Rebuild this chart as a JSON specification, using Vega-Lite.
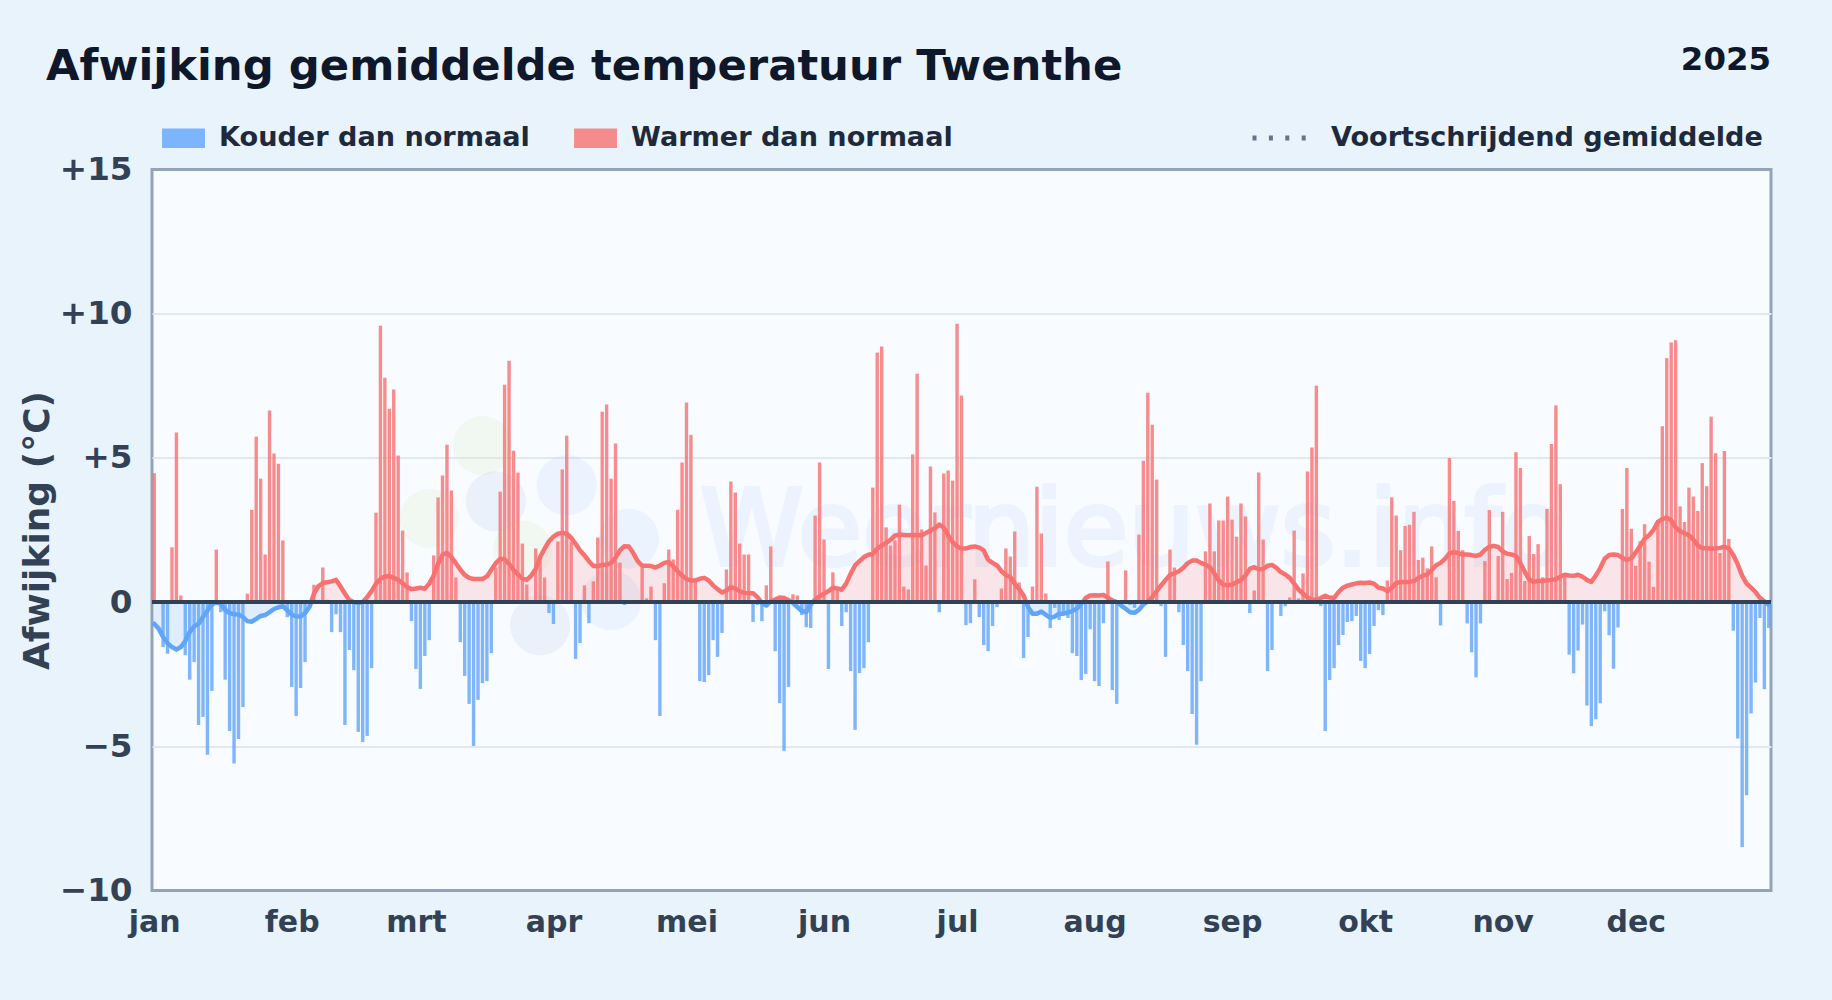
{"$schema":"https://vega.github.io/schema/vega-lite/v6.json","width":1619,"height":721,"autosize":{"type":"none"},"padding":{"left":152,"top":169.5,"right":61,"bottom":109.5},"background":"#e8f3fc",
"config":{"font":"DejaVu Sans","view":{"fill":"#f8fbff","stroke":"#94a3b8","strokeWidth":3}},
"title":{"text":"Afwijking gemiddelde temperatuur Twenthe","anchor":"start","frame":"group","dx":-106,"offset":-45.5,"fontSize":43.35,"fontWeight":"bold","color":"#0f172a","font":"DejaVu Sans"},
"datasets":{"days":[
{"date":"2025-01-01","dev":4.47,"avg":-0.75,"kind":"warm"},{"date":"2025-01-02","dev":0,"avg":-0.92,"kind":"warm"},{"date":"2025-01-03","dev":-1.56,"avg":-1.21,"kind":"koud"},{"date":"2025-01-04","dev":-1.79,"avg":-1.42,"kind":"koud"},{"date":"2025-01-05","dev":1.9,"avg":-1.56,"kind":"warm"},{"date":"2025-01-06","dev":5.88,"avg":-1.64,"kind":"warm"},{"date":"2025-01-07","dev":0.23,"avg":-1.56,"kind":"warm"},{"date":"2025-01-08","dev":-1.84,"avg":-1.35,"kind":"koud"},{"date":"2025-01-09","dev":-2.69,"avg":-1.04,"kind":"koud"},{"date":"2025-01-10","dev":-2.08,"avg":-0.84,"kind":"koud"},
{"date":"2025-01-11","dev":-4.26,"avg":-0.75,"kind":"koud"},{"date":"2025-01-12","dev":-3.98,"avg":-0.52,"kind":"koud"},{"date":"2025-01-13","dev":-5.29,"avg":-0.29,"kind":"koud"},{"date":"2025-01-14","dev":-3.08,"avg":-0.08,"kind":"koud"},{"date":"2025-01-15","dev":1.82,"avg":0,"kind":"warm"},{"date":"2025-01-16","dev":-0.35,"avg":-0.06,"kind":"koud"},{"date":"2025-01-17","dev":-2.69,"avg":-0.27,"kind":"koud"},{"date":"2025-01-18","dev":-4.47,"avg":-0.38,"kind":"koud"},{"date":"2025-01-19","dev":-5.6,"avg":-0.42,"kind":"koud"},{"date":"2025-01-20","dev":-4.75,"avg":-0.43,"kind":"koud"},
{"date":"2025-01-21","dev":-3.64,"avg":-0.52,"kind":"koud"},{"date":"2025-01-22","dev":0.29,"avg":-0.66,"kind":"warm"},{"date":"2025-01-23","dev":3.2,"avg":-0.68,"kind":"warm"},{"date":"2025-01-24","dev":5.74,"avg":-0.58,"kind":"warm"},{"date":"2025-01-25","dev":4.28,"avg":-0.48,"kind":"warm"},{"date":"2025-01-26","dev":1.65,"avg":-0.45,"kind":"warm"},{"date":"2025-01-27","dev":6.64,"avg":-0.35,"kind":"warm"},{"date":"2025-01-28","dev":5.15,"avg":-0.24,"kind":"warm"},{"date":"2025-01-29","dev":4.8,"avg":-0.18,"kind":"warm"},{"date":"2025-01-30","dev":2.14,"avg":-0.14,"kind":"warm"},{"date":"2025-01-31","dev":-0.52,"avg":-0.29,"kind":"koud"},
{"date":"2025-02-01","dev":-2.94,"avg":-0.43,"kind":"koud"},{"date":"2025-02-02","dev":-3.95,"avg":-0.5,"kind":"koud"},{"date":"2025-02-03","dev":-2.98,"avg":-0.5,"kind":"koud"},{"date":"2025-02-04","dev":-2.08,"avg":-0.38,"kind":"koud"},{"date":"2025-02-05","dev":-0.1,"avg":-0.17,"kind":"koud"},{"date":"2025-02-06","dev":0.6,"avg":0.29,"kind":"warm"},{"date":"2025-02-07","dev":0.08,"avg":0.55,"kind":"warm"},{"date":"2025-02-08","dev":1.2,"avg":0.66,"kind":"warm"},{"date":"2025-02-09","dev":0.08,"avg":0.69,"kind":"warm"},{"date":"2025-02-10","dev":-1.04,"avg":0.72,"kind":"koud"},
{"date":"2025-02-11","dev":-0.42,"avg":0.77,"kind":"koud"},{"date":"2025-02-12","dev":-1.04,"avg":0.54,"kind":"koud"},{"date":"2025-02-13","dev":-4.26,"avg":0.29,"kind":"koud"},{"date":"2025-02-14","dev":-1.66,"avg":0.07,"kind":"koud"},{"date":"2025-02-15","dev":-2.36,"avg":0,"kind":"koud"},{"date":"2025-02-16","dev":-4.5,"avg":-0.03,"kind":"koud"},{"date":"2025-02-17","dev":-4.85,"avg":0,"kind":"koud"},{"date":"2025-02-18","dev":-4.64,"avg":0.17,"kind":"koud"},{"date":"2025-02-19","dev":-2.29,"avg":0.38,"kind":"koud"},{"date":"2025-02-20","dev":3.1,"avg":0.64,"kind":"warm"},
{"date":"2025-02-21","dev":9.58,"avg":0.8,"kind":"warm"},{"date":"2025-02-22","dev":7.78,"avg":0.89,"kind":"warm"},{"date":"2025-02-23","dev":6.7,"avg":0.9,"kind":"warm"},{"date":"2025-02-24","dev":7.37,"avg":0.84,"kind":"warm"},{"date":"2025-02-25","dev":5.08,"avg":0.77,"kind":"warm"},{"date":"2025-02-26","dev":2.48,"avg":0.66,"kind":"warm"},{"date":"2025-02-27","dev":1.03,"avg":0.52,"kind":"warm"},{"date":"2025-02-28","dev":-0.66,"avg":0.45,"kind":"koud"},
{"date":"2025-03-01","dev":-2.32,"avg":0.47,"kind":"koud"},{"date":"2025-03-02","dev":-3.01,"avg":0.5,"kind":"koud"},{"date":"2025-03-03","dev":-1.87,"avg":0.46,"kind":"koud"},{"date":"2025-03-04","dev":-1.32,"avg":0.64,"kind":"koud"},{"date":"2025-03-05","dev":1.62,"avg":0.92,"kind":"warm"},{"date":"2025-03-06","dev":3.63,"avg":1.33,"kind":"warm"},{"date":"2025-03-07","dev":4.39,"avg":1.64,"kind":"warm"},{"date":"2025-03-08","dev":5.46,"avg":1.71,"kind":"warm"},{"date":"2025-03-09","dev":3.87,"avg":1.56,"kind":"warm"},{"date":"2025-03-10","dev":0.85,"avg":1.35,"kind":"warm"},
{"date":"2025-03-11","dev":-1.39,"avg":1.13,"kind":"koud"},{"date":"2025-03-12","dev":-2.56,"avg":0.94,"kind":"koud"},{"date":"2025-03-13","dev":-3.53,"avg":0.84,"kind":"koud"},{"date":"2025-03-14","dev":-4.99,"avg":0.8,"kind":"koud"},{"date":"2025-03-15","dev":-3.39,"avg":0.8,"kind":"koud"},{"date":"2025-03-16","dev":-2.81,"avg":0.8,"kind":"koud"},{"date":"2025-03-17","dev":-2.74,"avg":0.89,"kind":"koud"},{"date":"2025-03-18","dev":-1.77,"avg":1.12,"kind":"koud"},{"date":"2025-03-19","dev":1.2,"avg":1.35,"kind":"warm"},{"date":"2025-03-20","dev":3.83,"avg":1.5,"kind":"warm"},
{"date":"2025-03-21","dev":7.54,"avg":1.48,"kind":"warm"},{"date":"2025-03-22","dev":8.37,"avg":1.33,"kind":"warm"},{"date":"2025-03-23","dev":5.25,"avg":1.12,"kind":"warm"},{"date":"2025-03-24","dev":4.49,"avg":0.96,"kind":"warm"},{"date":"2025-03-25","dev":2.03,"avg":0.81,"kind":"warm"},{"date":"2025-03-26","dev":0.61,"avg":0.77,"kind":"warm"},{"date":"2025-03-27","dev":0,"avg":0.92,"kind":"warm"},{"date":"2025-03-28","dev":1.86,"avg":1.15,"kind":"warm"},{"date":"2025-03-29","dev":1.44,"avg":1.56,"kind":"warm"},{"date":"2025-03-30","dev":0.85,"avg":1.85,"kind":"warm"},{"date":"2025-03-31","dev":-0.38,"avg":2.11,"kind":"koud"},
{"date":"2025-04-01","dev":-0.76,"avg":2.27,"kind":"koud"},{"date":"2025-04-02","dev":2.1,"avg":2.37,"kind":"warm"},{"date":"2025-04-03","dev":4.6,"avg":2.4,"kind":"warm"},{"date":"2025-04-04","dev":5.77,"avg":2.37,"kind":"warm"},{"date":"2025-04-05","dev":2.1,"avg":2.23,"kind":"warm"},{"date":"2025-04-06","dev":-1.97,"avg":2.02,"kind":"koud"},{"date":"2025-04-07","dev":-1.42,"avg":1.79,"kind":"koud"},{"date":"2025-04-08","dev":0.58,"avg":1.62,"kind":"warm"},{"date":"2025-04-09","dev":-0.73,"avg":1.42,"kind":"koud"},{"date":"2025-04-10","dev":0.72,"avg":1.25,"kind":"warm"},
{"date":"2025-04-11","dev":2.24,"avg":1.25,"kind":"warm"},{"date":"2025-04-12","dev":6.6,"avg":1.29,"kind":"warm"},{"date":"2025-04-13","dev":6.85,"avg":1.3,"kind":"warm"},{"date":"2025-04-14","dev":4.28,"avg":1.35,"kind":"warm"},{"date":"2025-04-15","dev":5.5,"avg":1.54,"kind":"warm"},{"date":"2025-04-16","dev":1.37,"avg":1.79,"kind":"warm"},{"date":"2025-04-17","dev":-0.1,"avg":1.94,"kind":"koud"},{"date":"2025-04-18","dev":0,"avg":1.93,"kind":"warm"},{"date":"2025-04-19","dev":0,"avg":1.7,"kind":"warm"},{"date":"2025-04-20","dev":0,"avg":1.42,"kind":"warm"},
{"date":"2025-04-21","dev":1.21,"avg":1.26,"kind":"warm"},{"date":"2025-04-22","dev":0.13,"avg":1.26,"kind":"warm"},{"date":"2025-04-23","dev":0.54,"avg":1.25,"kind":"warm"},{"date":"2025-04-24","dev":-1.32,"avg":1.2,"kind":"koud"},{"date":"2025-04-25","dev":-3.95,"avg":1.27,"kind":"koud"},{"date":"2025-04-26","dev":0.65,"avg":1.36,"kind":"warm"},{"date":"2025-04-27","dev":1.82,"avg":1.39,"kind":"warm"},{"date":"2025-04-28","dev":1.48,"avg":1.24,"kind":"warm"},{"date":"2025-04-29","dev":3.2,"avg":1.07,"kind":"warm"},{"date":"2025-04-30","dev":4.84,"avg":0.92,"kind":"warm"},
{"date":"2025-05-01","dev":6.92,"avg":0.8,"kind":"warm"},{"date":"2025-05-02","dev":5.8,"avg":0.75,"kind":"warm"},{"date":"2025-05-03","dev":0.75,"avg":0.75,"kind":"warm"},{"date":"2025-05-04","dev":-2.74,"avg":0.81,"kind":"koud"},{"date":"2025-05-05","dev":-2.77,"avg":0.84,"kind":"koud"},{"date":"2025-05-06","dev":-2.53,"avg":0.75,"kind":"koud"},{"date":"2025-05-07","dev":-1.32,"avg":0.58,"kind":"koud"},{"date":"2025-05-08","dev":-1.9,"avg":0.45,"kind":"koud"},{"date":"2025-05-09","dev":-1.07,"avg":0.33,"kind":"koud"},{"date":"2025-05-10","dev":1.13,"avg":0.4,"kind":"warm"},
{"date":"2025-05-11","dev":4.18,"avg":0.52,"kind":"warm"},{"date":"2025-05-12","dev":3.8,"avg":0.47,"kind":"warm"},{"date":"2025-05-13","dev":2.03,"avg":0.38,"kind":"warm"},{"date":"2025-05-14","dev":1.65,"avg":0.32,"kind":"warm"},{"date":"2025-05-15","dev":1.65,"avg":0.31,"kind":"warm"},{"date":"2025-05-16","dev":-0.69,"avg":0.31,"kind":"koud"},{"date":"2025-05-17","dev":-0.1,"avg":0.17,"kind":"koud"},{"date":"2025-05-18","dev":-0.66,"avg":-0.03,"kind":"koud"},{"date":"2025-05-19","dev":0.58,"avg":-0.12,"kind":"warm"},{"date":"2025-05-20","dev":1.93,"avg":0.03,"kind":"warm"},
{"date":"2025-05-21","dev":-1.7,"avg":0.09,"kind":"koud"},{"date":"2025-05-22","dev":-3.5,"avg":0.16,"kind":"koud"},{"date":"2025-05-23","dev":-5.16,"avg":0.14,"kind":"koud"},{"date":"2025-05-24","dev":-2.94,"avg":0.07,"kind":"koud"},{"date":"2025-05-25","dev":0.27,"avg":-0.03,"kind":"warm"},{"date":"2025-05-26","dev":0.23,"avg":-0.17,"kind":"warm"},{"date":"2025-05-27","dev":-0.45,"avg":-0.31,"kind":"koud"},{"date":"2025-05-28","dev":-0.87,"avg":-0.35,"kind":"koud"},{"date":"2025-05-29","dev":-0.9,"avg":-0.08,"kind":"koud"},{"date":"2025-05-30","dev":3,"avg":0.09,"kind":"warm"},{"date":"2025-05-31","dev":4.84,"avg":0.2,"kind":"warm"},
{"date":"2025-06-01","dev":2.17,"avg":0.29,"kind":"warm"},{"date":"2025-06-02","dev":-2.32,"avg":0.38,"kind":"koud"},{"date":"2025-06-03","dev":1.03,"avg":0.5,"kind":"warm"},{"date":"2025-06-04","dev":0.4,"avg":0.47,"kind":"warm"},{"date":"2025-06-05","dev":-0.83,"avg":0.43,"kind":"koud"},{"date":"2025-06-06","dev":-0.35,"avg":0.64,"kind":"koud"},{"date":"2025-06-07","dev":-2.39,"avg":0.98,"kind":"koud"},{"date":"2025-06-08","dev":-4.43,"avg":1.27,"kind":"koud"},{"date":"2025-06-09","dev":-2.46,"avg":1.42,"kind":"koud"},{"date":"2025-06-10","dev":-2.29,"avg":1.56,"kind":"koud"},
{"date":"2025-06-11","dev":-1.39,"avg":1.64,"kind":"koud"},{"date":"2025-06-12","dev":3.97,"avg":1.67,"kind":"warm"},{"date":"2025-06-13","dev":8.65,"avg":1.85,"kind":"warm"},{"date":"2025-06-14","dev":8.86,"avg":1.96,"kind":"warm"},{"date":"2025-06-15","dev":2.59,"avg":2.05,"kind":"warm"},{"date":"2025-06-16","dev":1.96,"avg":2.16,"kind":"warm"},{"date":"2025-06-17","dev":2.14,"avg":2.31,"kind":"warm"},{"date":"2025-06-18","dev":3.38,"avg":2.34,"kind":"warm"},{"date":"2025-06-19","dev":0.54,"avg":2.33,"kind":"warm"},{"date":"2025-06-20","dev":0.44,"avg":2.32,"kind":"warm"},
{"date":"2025-06-21","dev":5.12,"avg":2.33,"kind":"warm"},{"date":"2025-06-22","dev":7.92,"avg":2.33,"kind":"warm"},{"date":"2025-06-23","dev":2.52,"avg":2.31,"kind":"warm"},{"date":"2025-06-24","dev":1.27,"avg":2.4,"kind":"warm"},{"date":"2025-06-25","dev":4.7,"avg":2.48,"kind":"warm"},{"date":"2025-06-26","dev":3.11,"avg":2.56,"kind":"warm"},{"date":"2025-06-27","dev":-0.35,"avg":2.69,"kind":"koud"},{"date":"2025-06-28","dev":4.46,"avg":2.58,"kind":"warm"},{"date":"2025-06-29","dev":4.56,"avg":2.31,"kind":"warm"},{"date":"2025-06-30","dev":4.21,"avg":2.08,"kind":"warm"},
{"date":"2025-07-01","dev":9.65,"avg":1.93,"kind":"warm"},{"date":"2025-07-02","dev":7.16,"avg":1.86,"kind":"warm"},{"date":"2025-07-03","dev":-0.8,"avg":1.86,"kind":"koud"},{"date":"2025-07-04","dev":-0.73,"avg":1.91,"kind":"koud"},{"date":"2025-07-05","dev":0.79,"avg":1.93,"kind":"warm"},{"date":"2025-07-06","dev":-0.52,"avg":1.89,"kind":"koud"},{"date":"2025-07-07","dev":-1.49,"avg":1.79,"kind":"koud"},{"date":"2025-07-08","dev":-1.7,"avg":1.47,"kind":"koud"},{"date":"2025-07-09","dev":-0.83,"avg":1.36,"kind":"koud"},{"date":"2025-07-10","dev":-0.17,"avg":1.27,"kind":"koud"},
{"date":"2025-07-11","dev":0.47,"avg":1.07,"kind":"warm"},{"date":"2025-07-12","dev":1.86,"avg":0.94,"kind":"warm"},{"date":"2025-07-13","dev":1.58,"avg":0.87,"kind":"warm"},{"date":"2025-07-14","dev":2.45,"avg":0.64,"kind":"warm"},{"date":"2025-07-15","dev":0.68,"avg":0.45,"kind":"warm"},{"date":"2025-07-16","dev":-1.94,"avg":0.23,"kind":"koud"},{"date":"2025-07-17","dev":-1.21,"avg":-0.17,"kind":"koud"},{"date":"2025-07-18","dev":0.54,"avg":-0.4,"kind":"warm"},{"date":"2025-07-19","dev":4,"avg":-0.4,"kind":"warm"},{"date":"2025-07-20","dev":2.38,"avg":-0.33,"kind":"warm"},
{"date":"2025-07-21","dev":0.3,"avg":-0.44,"kind":"warm"},{"date":"2025-07-22","dev":-0.9,"avg":-0.55,"kind":"koud"},{"date":"2025-07-23","dev":-0.2,"avg":-0.5,"kind":"koud"},{"date":"2025-07-24","dev":-0.62,"avg":-0.4,"kind":"koud"},{"date":"2025-07-25","dev":-0.45,"avg":-0.4,"kind":"koud"},{"date":"2025-07-26","dev":-0.55,"avg":-0.36,"kind":"koud"},{"date":"2025-07-27","dev":-1.77,"avg":-0.31,"kind":"koud"},{"date":"2025-07-28","dev":-1.87,"avg":-0.23,"kind":"koud"},{"date":"2025-07-29","dev":-2.7,"avg":-0.06,"kind":"koud"},{"date":"2025-07-30","dev":-2.49,"avg":0.14,"kind":"koud"},{"date":"2025-07-31","dev":-0.94,"avg":0.23,"kind":"koud"},
{"date":"2025-08-01","dev":-2.74,"avg":0.24,"kind":"koud"},{"date":"2025-08-02","dev":-2.91,"avg":0.23,"kind":"koud"},{"date":"2025-08-03","dev":-0.73,"avg":0.25,"kind":"koud"},{"date":"2025-08-04","dev":1.41,"avg":0.15,"kind":"warm"},{"date":"2025-08-05","dev":-3.05,"avg":0.06,"kind":"koud"},{"date":"2025-08-06","dev":-3.53,"avg":0,"kind":"koud"},{"date":"2025-08-07","dev":-0.05,"avg":-0.12,"kind":"koud"},{"date":"2025-08-08","dev":1.1,"avg":-0.23,"kind":"warm"},{"date":"2025-08-09","dev":-0.1,"avg":-0.35,"kind":"koud"},{"date":"2025-08-10","dev":-0.2,"avg":-0.37,"kind":"koud"},
{"date":"2025-08-11","dev":2.34,"avg":-0.27,"kind":"warm"},{"date":"2025-08-12","dev":4.9,"avg":-0.08,"kind":"warm"},{"date":"2025-08-13","dev":7.26,"avg":0.02,"kind":"warm"},{"date":"2025-08-14","dev":6.15,"avg":0.17,"kind":"warm"},{"date":"2025-08-15","dev":4.25,"avg":0.38,"kind":"warm"},{"date":"2025-08-16","dev":-0.14,"avg":0.58,"kind":"koud"},{"date":"2025-08-17","dev":-1.9,"avg":0.77,"kind":"koud"},{"date":"2025-08-18","dev":1.82,"avg":0.94,"kind":"warm"},{"date":"2025-08-19","dev":1.2,"avg":1,"kind":"warm"},{"date":"2025-08-20","dev":-0.35,"avg":1.07,"kind":"koud"},
{"date":"2025-08-21","dev":-1.49,"avg":1.19,"kind":"koud"},{"date":"2025-08-22","dev":-2.39,"avg":1.35,"kind":"koud"},{"date":"2025-08-23","dev":-3.88,"avg":1.44,"kind":"koud"},{"date":"2025-08-24","dev":-4.95,"avg":1.44,"kind":"koud"},{"date":"2025-08-25","dev":-2.74,"avg":1.36,"kind":"koud"},{"date":"2025-08-26","dev":1.76,"avg":1.3,"kind":"warm"},{"date":"2025-08-27","dev":3.42,"avg":1.21,"kind":"warm"},{"date":"2025-08-28","dev":1.76,"avg":1,"kind":"warm"},{"date":"2025-08-29","dev":2.83,"avg":0.75,"kind":"warm"},{"date":"2025-08-30","dev":2.83,"avg":0.61,"kind":"warm"},{"date":"2025-08-31","dev":3.66,"avg":0.58,"kind":"warm"},
{"date":"2025-09-01","dev":2.86,"avg":0.61,"kind":"warm"},{"date":"2025-09-02","dev":2.27,"avg":0.69,"kind":"warm"},{"date":"2025-09-03","dev":3.42,"avg":0.77,"kind":"warm"},{"date":"2025-09-04","dev":2.97,"avg":0.92,"kind":"warm"},{"date":"2025-09-05","dev":-0.38,"avg":1.15,"kind":"koud"},{"date":"2025-09-06","dev":0.4,"avg":1.21,"kind":"warm"},{"date":"2025-09-07","dev":4.49,"avg":1.14,"kind":"warm"},{"date":"2025-09-08","dev":2.17,"avg":1.15,"kind":"warm"},{"date":"2025-09-09","dev":-2.39,"avg":1.26,"kind":"koud"},{"date":"2025-09-10","dev":-1.66,"avg":1.29,"kind":"koud"},
{"date":"2025-09-11","dev":0,"avg":1.19,"kind":"warm"},{"date":"2025-09-12","dev":-0.48,"avg":1.04,"kind":"koud"},{"date":"2025-09-13","dev":-0.14,"avg":0.96,"kind":"koud"},{"date":"2025-09-14","dev":0.16,"avg":0.84,"kind":"warm"},{"date":"2025-09-15","dev":2.48,"avg":0.64,"kind":"warm"},{"date":"2025-09-16","dev":0.13,"avg":0.43,"kind":"warm"},{"date":"2025-09-17","dev":0.99,"avg":0.29,"kind":"warm"},{"date":"2025-09-18","dev":4.53,"avg":0.17,"kind":"warm"},{"date":"2025-09-19","dev":5.36,"avg":0.09,"kind":"warm"},{"date":"2025-09-20","dev":7.5,"avg":0.08,"kind":"warm"},
{"date":"2025-09-21","dev":-0.14,"avg":0.14,"kind":"koud"},{"date":"2025-09-22","dev":-4.47,"avg":0.22,"kind":"koud"},{"date":"2025-09-23","dev":-2.7,"avg":0.16,"kind":"koud"},{"date":"2025-09-24","dev":-2.29,"avg":0.15,"kind":"koud"},{"date":"2025-09-25","dev":-1.49,"avg":0.35,"kind":"koud"},{"date":"2025-09-26","dev":-1.14,"avg":0.5,"kind":"koud"},{"date":"2025-09-27","dev":-0.69,"avg":0.57,"kind":"koud"},{"date":"2025-09-28","dev":-0.66,"avg":0.61,"kind":"koud"},{"date":"2025-09-29","dev":-0.48,"avg":0.65,"kind":"koud"},{"date":"2025-09-30","dev":-2.04,"avg":0.67,"kind":"koud"},
{"date":"2025-10-01","dev":-2.29,"avg":0.66,"kind":"koud"},{"date":"2025-10-02","dev":-1.8,"avg":0.68,"kind":"koud"},{"date":"2025-10-03","dev":-0.83,"avg":0.64,"kind":"koud"},{"date":"2025-10-04","dev":-0.28,"avg":0.5,"kind":"koud"},{"date":"2025-10-05","dev":-0.45,"avg":0.47,"kind":"koud"},{"date":"2025-10-06","dev":0.75,"avg":0.38,"kind":"warm"},{"date":"2025-10-07","dev":3.63,"avg":0.5,"kind":"warm"},{"date":"2025-10-08","dev":3,"avg":0.66,"kind":"warm"},{"date":"2025-10-09","dev":1.8,"avg":0.7,"kind":"warm"},{"date":"2025-10-10","dev":2.64,"avg":0.7,"kind":"warm"},
{"date":"2025-10-11","dev":2.68,"avg":0.7,"kind":"warm"},{"date":"2025-10-12","dev":3.13,"avg":0.73,"kind":"warm"},{"date":"2025-10-13","dev":1.46,"avg":0.83,"kind":"warm"},{"date":"2025-10-14","dev":1.54,"avg":0.92,"kind":"warm"},{"date":"2025-10-15","dev":1.17,"avg":0.96,"kind":"warm"},{"date":"2025-10-16","dev":1.93,"avg":1.11,"kind":"warm"},{"date":"2025-10-17","dev":0.86,"avg":1.28,"kind":"warm"},{"date":"2025-10-18","dev":-0.81,"avg":1.36,"kind":"koud"},{"date":"2025-10-19","dev":0,"avg":1.5,"kind":"warm"},{"date":"2025-10-20","dev":5,"avg":1.69,"kind":"warm"},
{"date":"2025-10-21","dev":3.51,"avg":1.73,"kind":"warm"},{"date":"2025-10-22","dev":2.47,"avg":1.7,"kind":"warm"},{"date":"2025-10-23","dev":1.8,"avg":1.65,"kind":"warm"},{"date":"2025-10-24","dev":-0.74,"avg":1.65,"kind":"koud"},{"date":"2025-10-25","dev":-1.74,"avg":1.63,"kind":"koud"},{"date":"2025-10-26","dev":-2.61,"avg":1.6,"kind":"koud"},{"date":"2025-10-27","dev":-0.74,"avg":1.65,"kind":"koud"},{"date":"2025-10-28","dev":1.42,"avg":1.81,"kind":"warm"},{"date":"2025-10-29","dev":3.19,"avg":1.92,"kind":"warm"},{"date":"2025-10-30","dev":0,"avg":1.95,"kind":"warm"},{"date":"2025-10-31","dev":1.6,"avg":1.91,"kind":"warm"},
{"date":"2025-11-01","dev":3.13,"avg":1.76,"kind":"warm"},{"date":"2025-11-02","dev":0.8,"avg":1.68,"kind":"warm"},{"date":"2025-11-03","dev":1.01,"avg":1.65,"kind":"warm"},{"date":"2025-11-04","dev":5.2,"avg":1.6,"kind":"warm"},{"date":"2025-11-05","dev":4.65,"avg":1.35,"kind":"warm"},{"date":"2025-11-06","dev":0.73,"avg":1.05,"kind":"warm"},{"date":"2025-11-07","dev":2.29,"avg":0.78,"kind":"warm"},{"date":"2025-11-08","dev":1.67,"avg":0.7,"kind":"warm"},{"date":"2025-11-09","dev":2.01,"avg":0.73,"kind":"warm"},{"date":"2025-11-10","dev":0.86,"avg":0.73,"kind":"warm"},
{"date":"2025-11-11","dev":3.23,"avg":0.76,"kind":"warm"},{"date":"2025-11-12","dev":5.48,"avg":0.77,"kind":"warm"},{"date":"2025-11-13","dev":6.82,"avg":0.79,"kind":"warm"},{"date":"2025-11-14","dev":4.09,"avg":0.88,"kind":"warm"},{"date":"2025-11-15","dev":0.9,"avg":0.95,"kind":"warm"},{"date":"2025-11-16","dev":-1.82,"avg":0.92,"kind":"koud"},{"date":"2025-11-17","dev":-2.47,"avg":0.91,"kind":"koud"},{"date":"2025-11-18","dev":-1.68,"avg":0.95,"kind":"koud"},{"date":"2025-11-19","dev":-0.78,"avg":0.88,"kind":"koud"},{"date":"2025-11-20","dev":-3.59,"avg":0.77,"kind":"koud"},
{"date":"2025-11-21","dev":-4.3,"avg":0.7,"kind":"koud"},{"date":"2025-11-22","dev":-4.06,"avg":0.92,"kind":"koud"},{"date":"2025-11-23","dev":-3.51,"avg":1.18,"kind":"koud"},{"date":"2025-11-24","dev":-0.32,"avg":1.5,"kind":"koud"},{"date":"2025-11-25","dev":-1.15,"avg":1.63,"kind":"koud"},{"date":"2025-11-26","dev":-2.31,"avg":1.65,"kind":"koud"},{"date":"2025-11-27","dev":-0.88,"avg":1.63,"kind":"koud"},{"date":"2025-11-28","dev":3.23,"avg":1.54,"kind":"warm"},{"date":"2025-11-29","dev":4.65,"avg":1.46,"kind":"warm"},{"date":"2025-11-30","dev":2.54,"avg":1.52,"kind":"warm"},
{"date":"2025-12-01","dev":1.26,"avg":1.72,"kind":"warm"},{"date":"2025-12-02","dev":2.11,"avg":1.95,"kind":"warm"},{"date":"2025-12-03","dev":2.7,"avg":2.2,"kind":"warm"},{"date":"2025-12-04","dev":1.4,"avg":2.32,"kind":"warm"},{"date":"2025-12-05","dev":0.53,"avg":2.5,"kind":"warm"},{"date":"2025-12-06","dev":2.78,"avg":2.78,"kind":"warm"},{"date":"2025-12-07","dev":6.1,"avg":2.88,"kind":"warm"},{"date":"2025-12-08","dev":8.46,"avg":2.93,"kind":"warm"},{"date":"2025-12-09","dev":9,"avg":2.83,"kind":"warm"},{"date":"2025-12-10","dev":9.08,"avg":2.59,"kind":"warm"},
{"date":"2025-12-11","dev":3.32,"avg":2.45,"kind":"warm"},{"date":"2025-12-12","dev":2.78,"avg":2.4,"kind":"warm"},{"date":"2025-12-13","dev":3.97,"avg":2.32,"kind":"warm"},{"date":"2025-12-14","dev":3.66,"avg":2.17,"kind":"warm"},{"date":"2025-12-15","dev":3.16,"avg":1.96,"kind":"warm"},{"date":"2025-12-16","dev":4.82,"avg":1.88,"kind":"warm"},{"date":"2025-12-17","dev":4.02,"avg":1.87,"kind":"warm"},{"date":"2025-12-18","dev":6.43,"avg":1.86,"kind":"warm"},{"date":"2025-12-19","dev":5.16,"avg":1.86,"kind":"warm"},{"date":"2025-12-20","dev":1.7,"avg":1.88,"kind":"warm"},
{"date":"2025-12-21","dev":5.24,"avg":1.92,"kind":"warm"},{"date":"2025-12-22","dev":2.19,"avg":1.86,"kind":"warm"},{"date":"2025-12-23","dev":-0.99,"avg":1.63,"kind":"koud"},{"date":"2025-12-24","dev":-4.73,"avg":1.31,"kind":"koud"},{"date":"2025-12-25","dev":-8.49,"avg":0.92,"kind":"koud"},{"date":"2025-12-26","dev":-6.7,"avg":0.64,"kind":"koud"},{"date":"2025-12-27","dev":-3.86,"avg":0.5,"kind":"koud"},{"date":"2025-12-28","dev":-2.79,"avg":0.35,"kind":"koud"},{"date":"2025-12-29","dev":-0.55,"avg":0.15,"kind":"koud"},{"date":"2025-12-30","dev":-3.02,"avg":0.03,"kind":"koud"},{"date":"2025-12-31","dev":-0.9,"avg":-0.1,"kind":"koud"}
]},
"encoding":{"x":{"field":"date","type":"temporal","title":null,"scale":{"type":"utc","nice":false,"padding":0,"domain":[1735646400000,1767182400000]},"axis":{"tickCount":"month","format":"%b","grid":false,"domain":false,"ticks":false,"labelExpr":"['jan','feb','mrt','apr','mei','jun','jul','aug','sep','okt','nov','dec'][utcmonth(datum.value)]","labelFontSize":30,"labelFontWeight":"bold","labelColor":"#334155","labelPadding":17,"labelAlign":"center","labelFlush":false,"labelOverlap":false}}},
"layer":[
{"data":{"values":[{"date":"2025-03-16","v":5.43},{"date":"2025-03-04","v":2.9},{"date":"2025-03-25","v":1.8}]},"mark":{"type":"point","shape":"circle","filled":true,"size":3500,"color":"#d6eeb8","opacity":0.2},"encoding":{"y":{"field":"v","type":"quantitative","title":"Afwijking (°C)","scale":{"domain":[-10,15]}}}},
{"data":{"values":[{"date":"2025-03-19","v":3.5},{"date":"2025-03-29","v":-0.8}]},"mark":{"type":"point","shape":"circle","filled":true,"size":3600,"color":"#7ea5d6","opacity":0.11},"encoding":{"y":{"field":"v","type":"quantitative","title":"Afwijking (°C)","scale":{"domain":[-10,15]}}}},
{"data":{"values":[{"date":"2025-04-04","v":4.05},{"date":"2025-04-18","v":2.2},{"date":"2025-04-14","v":0.06}]},"mark":{"type":"point","shape":"circle","filled":true,"size":3600,"color":"#93c5fd","opacity":0.14},"encoding":{"y":{"field":"v","type":"quantitative","title":"Afwijking (°C)","scale":{"domain":[-10,15]}}}},
{"data":{"values":[{"date":"2025-05-04","v":1.27,"label":"Weernieuws.info"}]},"mark":{"type":"text","align":"left","baseline":"alphabetic","fontSize":105,"font":"DejaVu Sans","color":"#3b82f6","stroke":"#3b82f6","strokeWidth":4,"opacity":0.06},"encoding":{"y":{"field":"v","type":"quantitative","title":"Afwijking (°C)","scale":{"domain":[-10,15]}},"text":{"field":"label"}}},
{"data":{"name":"days"},"mark":{"type":"area","clip":true,"fill":{"gradient":"linear","x1":0,"y1":0,"x2":0,"y2":1,"stops":[{"offset":0,"color":"rgba(248,113,113,0.16)"},{"offset":0.6411,"color":"rgba(248,113,113,0.16)"},{"offset":0.6411,"color":"rgba(96,165,250,0.16)"},{"offset":1,"color":"rgba(96,165,250,0.16)"}]}},"encoding":{"y":{"field":"avg","type":"quantitative","title":"Afwijking (°C)","scale":{"domain":[-10,15]}},"y2":{"datum":0}}},
{"data":{"name":"days"},"mark":{"type":"bar","width":3.4,"clip":true,"opacity":0.8},"encoding":{"y":{"field":"dev","type":"quantitative","title":"Afwijking (°C)","scale":{"domain":[-10,15]},"axis":{"values":[-10,-5,0,5,10,15],"labelExpr":"datum.value>0?'+'+datum.value:(datum.value<0?'−'+abs(datum.value):'0')","labelFontSize":32.6,"labelFontWeight":"bold","labelColor":"#334155","labelPadding":20,"grid":true,"gridColor":{"condition":{"test":"datum.value==15||datum.value==-10","value":"#94a3b8"},"value":"#e2e8f0"},"gridWidth":2,"domain":false,"ticks":false,"titleFontSize":36,"titleFontWeight":"bold","titleColor":"#334155","titlePadding":3}},"y2":{"datum":0},"fill":{"field":"kind","type":"nominal","scale":{"domain":["koud","warm"],"range":["#60a5fa","#f87171"]},"legend":{"orient":"none","legendX":12,"legendY":-51,"direction":"horizontal","columns":2,"columnPadding":44,"title":null,"labelExpr":"datum.value=='koud'?'Kouder dan normaal':'Warmer dan normaal'","labelLimit":600,"labelFontSize":27.1,"labelFontWeight":"bold","labelColor":"#1e293b","labelOffset":16,"symbolType":"M-1.1,-0.5H1.1V0.5H-1.1Z","symbolSize":1521,"symbolOpacity":0.8,"symbolStrokeWidth":0}}}},
{"data":{"name":"days"},"mark":{"type":"line","clip":true,"strokeWidth":4.5,"strokeCap":"round","strokeJoin":"round","stroke":{"gradient":"linear","x1":0,"y1":0,"x2":0,"y2":1,"stops":[{"offset":0,"color":"#f87171"},{"offset":0.6411,"color":"#f87171"},{"offset":0.6411,"color":"#60a5fa"},{"offset":1,"color":"#60a5fa"}]}},"encoding":{"y":{"field":"avg","type":"quantitative","title":"Afwijking (°C)","scale":{"domain":[-10,15]}}}},
{"data":{"values":[{"date":"2024-12-31T12:00:00Z","end":"2025-12-31T12:00:00Z","v":0}]},"mark":{"type":"rule","color":"#334155","strokeWidth":4},"encoding":{"x2":{"field":"end"},"y":{"field":"v","type":"quantitative","title":"Afwijking (°C)","scale":{"domain":[-10,15]}}}},
{"data":{"values":[{"date":"2025-12-31T12:00:00Z","v":18.8,"label":"2025"}]},"mark":{"type":"text","align":"right","baseline":"middle","fontSize":32.4,"fontWeight":"bold","color":"#0f172a","font":"DejaVu Sans"},"encoding":{"y":{"field":"v","type":"quantitative","title":"Afwijking (°C)","scale":{"domain":[-10,15]}},"text":{"field":"label"}}},
{"data":{"values":[{"date":"2025-01-01","v":0,"naam":"Voortschrijdend gemiddelde"}]},"mark":{"type":"line","strokeWidth":0},"encoding":{"y":{"field":"v","type":"quantitative","title":"Afwijking (°C)","scale":{"domain":[-10,15]}},"stroke":{"field":"naam","type":"nominal","scale":{"range":["#64748b"]},"legend":{"orient":"none","legendX":1098,"legendY":-62,"title":null,"labelLimit":600,"labelFontSize":27.1,"labelFontWeight":"bold","labelColor":"#1e293b","labelOffset":20,"symbolType":"stroke","symbolSize":3136,"symbolDash":[4,12.4],"symbolStrokeWidth":5,"symbolStrokeColor":"#64748b"}}}}
]}
